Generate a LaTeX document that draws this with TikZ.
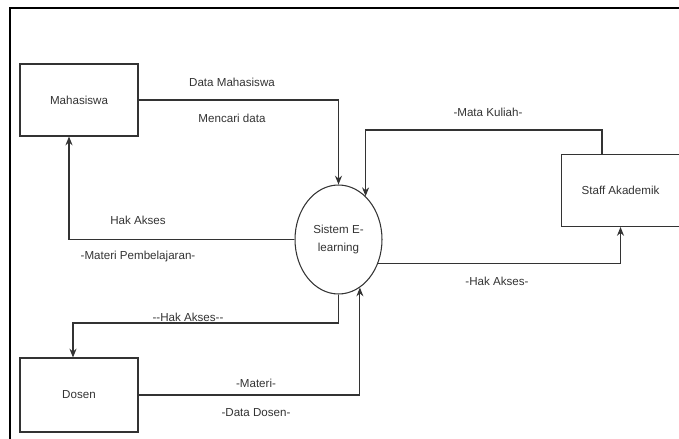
\documentclass[tikz,border=0pt]{standalone}
\usepackage{fontspec}
\setmainfont{Liberation Sans}
\usetikzlibrary{shapes.geometric,arrows.meta}

\begin{document}
\begin{tikzpicture}[x=0.02cm, y=-0.02cm,
  every node/.style={font=\fontsize{6.6}{10}\selectfont, text=black!80},
  entity/.style={draw=black!80, line width=0.6pt, rectangle, minimum width=2.36cm, minimum height=1.44cm, inner sep=0pt},
  process/.style={draw=black!80, line width=0.6pt, ellipse, minimum width=1.74cm, minimum height=2.18cm, inner sep=0pt, align=center},
  flow/.style={draw=black!80, line width=0.6pt, -{Stealth[length=5pt,width=4pt]}}]
  \useasboundingbox (0,0) rectangle (679,439);
  \clip (0,0) rectangle (679,439);
  \draw[line width=1.3pt] (10,8) rectangle (700,460);

  \node[entity] (mhs) at (79,100) {Mahasiswa};
  \node[entity, minimum height=1.48cm] (dsn) at (79,395) {Dosen};
  \node[entity] (staf) at (620.5,190.5) {Staff Akademik};
  \node[process] (sys) at (338.5,239.5) {Sistem E-\\learning};

  \coordinate (hk1) at (69,238);
  \coordinate (mk) at (602,130);
  \coordinate (hk2) at (73,323);

  \draw[flow] (mhs.east) -| (sys.north);
  \draw[flow] (sys.west) -| (hk1 |- mhs.south);
  \draw[flow] (staf.north -| mk) -- (mk) -| (sys.58);
  \draw[flow] (sys.-31) -| (staf.south);
  \draw[flow] (sys.south) |- (hk2) -- (hk2 |- dsn.north);
  \draw[flow] (dsn.east) -| (sys.-66);

  \node (dm) at (232,82) {Data Mahasiswa};
  \node (cd) at (232,118) {Mencari data};
  \node (mkl) at (488,112) {-Mata Kuliah-};
  \node (ha1) at (138,220) {Hak Akses};
  \node (mp) at (138,256) {-Materi Pembelajaran-};
  \node (ha2) at (497,281) {-Hak Akses-};
  \node (ha3) at (188,317) {-{}-Hak Akses-{}-};
  \node (mt) at (256,383) {-Materi-};
  \node (dd) at (256,413) {-Data Dosen-};

\end{tikzpicture}
\end{document}
